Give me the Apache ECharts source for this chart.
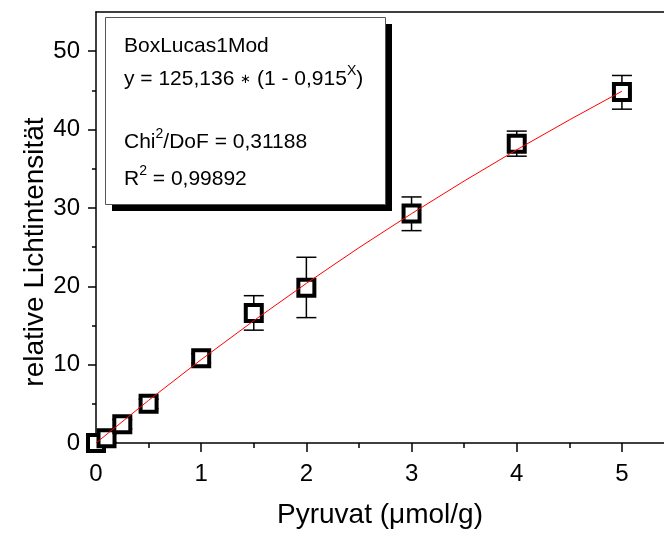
<!DOCTYPE html>
<html>
<head>
<meta charset="utf-8">
<script src="https://cdn.jsdelivr.net/npm/echarts@6/dist/echarts.min.js"></script>
<style>
  html, body { margin: 0; background: #fff; }
  #chart { width: 664px; height: 534px; }
</style>
</head>
<body>
<div id="chart"></div>
<script>
// Messwerte
const pyruvat = [0, 0.1, 0.25, 0.5, 1, 1.5, 2, 3, 4, 5];
const intensity = [0, 0.6, 2.4, 5.0, 10.8, 16.6, 19.8, 29.3, 38.2, 44.8];
const errLow = [0.3, 0.5, 0.6, 0.6, 0.6, 2.2, 3.8, 2.2, 1.6, 2.2];
const errHigh = [0.3, 0.5, 0.6, 0.6, 0.6, 2.2, 3.9, 2.1, 1.6, 2.1];

// Fitkurve (BoxLucas1Mod)
const fitX = [0, 0.5, 1, 1.5, 2, 2.5, 3, 3.5, 4, 4.5, 5];
const fitY = [0, 5.44, 10.64, 15.61, 20.37, 24.92, 29.27, 33.43, 37.42, 41.23, 44.89];

// Achsenbeschriftung
const xTicks = [0, 1, 2, 3, 4, 5];
const xMinor = [0.5, 1.5, 2.5, 3.5, 4.5];
const yTicks = [0, 10, 20, 30, 40, 50];
const yMinor = [5, 15, 25, 35, 45];

const FONT = '"Liberation Sans", Arial, sans-serif';

const chart = echarts.init(document.getElementById('chart'));

const points = pyruvat.map((x, i) => [x, intensity[i]]);
const bars = pyruvat.map((x, i) => [x, intensity[i] - errLow[i], intensity[i] + errHigh[i]]);
const fit = fitX.map((x, i) => [x, fitY[i]]);

const black = { color: '#000', width: 1.5 };

const boxRich = {
  s: { fontSize: 14, fontFamily: FONT, color: '#000', verticalAlign: 'top', lineHeight: 30 },
  a: { fontSize: 13, fontFamily: FONT, color: '#000', lineHeight: 28 }
};
const boxText = (top, text) => ({
  type: 'text', left: 124, top: top, z: 12,
  style: {
    text: text, fontFamily: FONT, fontSize: 21, fill: '#000',
    lineHeight: 28, rich: boxRich
  }
});

chart.setOption({
  animation: false,
  backgroundColor: '#fff',
  grid: { left: 96, right: 0, top: 12, bottom: 91 },
  xAxis: [
    {
      type: 'value', min: 0, max: 5.4, position: 'bottom',
      axisLine: { lineStyle: black },
      axisTick: { customValues: xTicks, length: 9, lineStyle: black },
      axisLabel: { customValues: xTicks, margin: 19, fontSize: 24, fontFamily: FONT, color: '#000' },
      splitLine: { show: false },
      name: 'Pyruvat (μmol/g)', nameLocation: 'middle', nameGap: 58,
      nameTextStyle: { fontSize: 28, fontFamily: FONT, color: '#000' }
    },
    {
      type: 'value', min: 0, max: 5.4, position: 'bottom',
      axisLine: { show: false },
      axisTick: { customValues: xMinor, length: 5, lineStyle: black },
      axisLabel: { show: false },
      splitLine: { show: false }
    },
    {
      type: 'value', min: 0, max: 5.4, position: 'top',
      axisLine: { lineStyle: black },
      axisTick: { show: false },
      axisLabel: { show: false },
      splitLine: { show: false }
    }
  ],
  yAxis: [
    {
      type: 'value', min: 0, max: 55, position: 'left',
      axisLine: { show: true, lineStyle: black },
      axisTick: { show: true, customValues: yTicks, length: 8, lineStyle: black },
      axisLabel: { customValues: yTicks, margin: 16, fontSize: 24, fontFamily: FONT, color: '#000' },
      splitLine: { show: false }
    },
    {
      type: 'value', min: 0, max: 55, position: 'left',
      axisLine: { show: false },
      axisTick: { show: true, customValues: yMinor, length: 4, lineStyle: black },
      axisLabel: { show: false },
      splitLine: { show: false }
    }
  ],
  series: [
    {
      type: 'custom',
      xAxisIndex: 0, yAxisIndex: 0,
      z: 2,
      renderItem: (params, api) => {
        const lo = api.coord([api.value(0), api.value(1)]);
        const hi = api.coord([api.value(0), api.value(2)]);
        const w = 10;
        const st = { stroke: '#000', lineWidth: 1.5 };
        return {
          type: 'group',
          children: [
            { type: 'line', shape: { x1: lo[0], y1: lo[1], x2: hi[0], y2: hi[1] }, style: st },
            { type: 'line', shape: { x1: lo[0] - w, y1: lo[1], x2: lo[0] + w, y2: lo[1] }, style: st },
            { type: 'line', shape: { x1: hi[0] - w, y1: hi[1], x2: hi[0] + w, y2: hi[1] }, style: st }
          ]
        };
      },
      encode: { x: 0, y: [1, 2] },
      data: bars
    },
    {
      type: 'scatter',
      xAxisIndex: 0, yAxisIndex: 0,
      z: 3,
      symbol: 'rect', symbolSize: 16,
      itemStyle: { color: '#fff', borderColor: '#000', borderWidth: 4, opacity: 1 },
      data: points
    },
    {
      type: 'line',
      xAxisIndex: 0, yAxisIndex: 0,
      z: 4,
      showSymbol: false, symbol: 'none',
      lineStyle: { color: '#ff0000', width: 1 },
      data: fit
    }
  ],
  graphic: [
    { type: 'rect', left: 112, top: 24, shape: { width: 280, height: 187 }, style: { fill: '#000' }, z: 10 },
    { type: 'rect', left: 105, top: 17, shape: { width: 280, height: 187 }, style: { fill: '#fff', stroke: '#555', lineWidth: 1 }, z: 11 },
    boxText(32, 'BoxLucas1Mod'),
    boxText(64, 'y = 125,136 {a|∗} (1 - 0,915{s|X})'),
    boxText(127, 'Chi{s|2}/DoF = 0,31188'),
    boxText(164, 'R{s|2} = 0,99892'),
    {
      type: 'text', x: 35, y: 252, rotation: Math.PI / 2, z: 12,
      style: {
        text: 'relative Lichtintensität', fontFamily: FONT, fontSize: 28, fill: '#000',
        align: 'center', verticalAlign: 'middle'
      }
    }
  ]
});
</script>
</body>
</html>
